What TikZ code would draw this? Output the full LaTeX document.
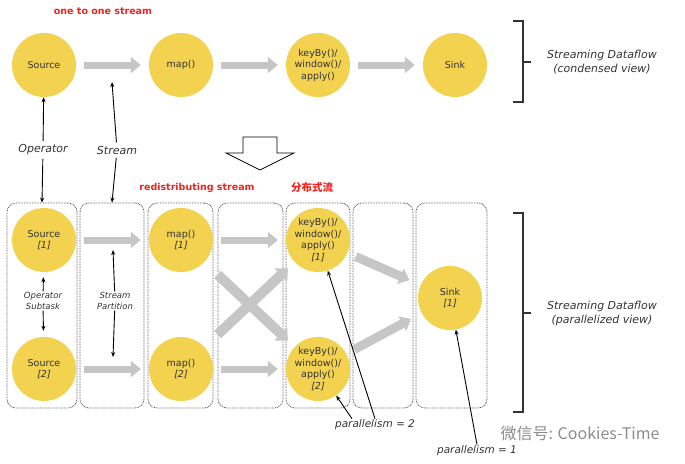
\documentclass[tikz,border=0pt]{standalone}
\usepackage{fontspec}
\setmainfont{DejaVu Sans}
\newfontfamily\cjk{Noto Sans CJK SC}
\usetikzlibrary{arrows.meta,positioning,calc}
\definecolor{opyellow}{HTML}{F2D24E}
\definecolor{flowgray}{HTML}{C6C6C6}
\definecolor{notered}{HTML}{F0231E}
\definecolor{lanegray}{HTML}{5A5A5A}
\definecolor{labeltext}{HTML}{333333}
\definecolor{markgray}{HTML}{8C8C8C}

\tikzset{
  op/.style={circle, fill=opyellow, minimum size=64pt, inner sep=0pt, align=center,
    font=\fontsize{9.5}{11.5}\selectfont, text=labeltext},
  flow/.style={draw=flowgray, line width=7pt, shorten <=8pt, shorten >=8pt,
    -{Triangle[width=16pt,length=10pt]}},
  crossflow/.style={draw=flowgray, line width=10pt, -{Triangle[width=18pt,length=10pt]}},
  lane/.style={draw=lanegray, line width=0.8pt, dash pattern=on 0.8pt off 0.8pt,
    rounded corners=9pt, minimum height=205pt, inner sep=0pt},
  pointer/.style={draw=black, line width=0.9pt, -{Stealth[length=5pt,width=4pt]}},
  bigtag/.style={font=\fontsize{11}{14}\selectfont\itshape, text=labeltext, align=center},
  smalltag/.style={font=\fontsize{8.5}{10.5}\selectfont\itshape, text=labeltext, align=center, inner sep=1pt},
  partag/.style={font=\fontsize{10.5}{12}\selectfont\itshape, text=labeltext, inner sep=1pt},
  redtag/.style={font=\fontsize{9.5}{11}\selectfont\bfseries, text=notered},
  bracket/.style={draw=labeltext, line width=1.2pt}
}

\begin{document}
\begin{tikzpicture}[x=1pt,y=-1pt]
\useasboundingbox (0,0) rectangle (685,463);

% condensed view
\node[op] (src) at (44,65) {Source};
\node[op] (map) at (181,65) {map()};
\node[op] (kb) at (318,65) {keyBy()/\\window()/\\apply()};
\node[op] (snk) at (455,65) {Sink};
\draw[flow] (src) -- (map);
\draw[flow] (map) -- (kb);
\draw[flow] (kb) -- (snk);

\node[redtag] (oto) at (103,11) {one to one stream};

\draw[bracket] (513,21) -- (523,21) -- (523,102) -- (513,102);
\draw[bracket] (523,62) -- (531,62);
\node[bigtag] (condensed) at (602,62) {Streaming Dataflow\\(condensed view)};

% labels between the two views
\node[bigtag] (oplbl) at (43,150) {Operator};
\node[bigtag] (strlbl) at (117,150) {Stream};
\coordinate (streamtip) at (112,82);

% big hollow arrow
\draw[line width=0.8pt, fill=white] (243,137) -- (277,137) -- (277,153) -- (294,153)
  -- (260,170) -- (226,153) -- (243,153) -- cycle;

\node[redtag] (redis) at (197,188) {redistributing stream};
\node[redtag, font=\fontsize{10.5}{12}\selectfont\cjk\bfseries] (fbs) at (312,188) {分布式流};

% parallelized view: lanes
\node[lane, minimum width=70pt] (lane1) at (42,305.5) {};
\node[lane, minimum width=64pt] (lane2) at (112,305.5) {};
\node[lane, minimum width=65pt] (lane3) at (180.5,305.5) {};
\node[lane, minimum width=65pt] (lane4) at (250.5,305.5) {};
\node[lane, minimum width=64pt] (lane5) at (318,305.5) {};
\node[lane, minimum width=60pt] (lane6) at (383,305.5) {};
\node[lane, minimum width=71pt] (lane7) at (451.5,305.5) {};

\draw[pointer] (oplbl) -- (src);
\draw[pointer] (oplbl) -- (lane1.north);
\draw[pointer] (strlbl) -- (streamtip);
\draw[pointer] (strlbl) -- (lane2.north);

% subtasks
\node[op] (src1) at (44,240) {Source\\{\itshape[1]}};
\node[op] (src2) at (44,369) {Source\\{\itshape[2]}};
\node[op] (map1) at (181,240) {map()\\{\itshape[1]}};
\node[op] (map2) at (181,369) {map()\\{\itshape[2]}};
\node[op] (kb1) at (318,240) {keyBy()/\\window()/\\apply()\\{\itshape[1]}};
\node[op] (kb2) at (318,369) {keyBy()/\\window()/\\apply()\\{\itshape[2]}};
\node[op] (snk1) at (450,298) {Sink\\{\itshape[1]}};

\draw[flow] (src1) -- (map1);
\draw[flow] (src2) -- (map2);
\draw[flow] (map1) -- (kb1);
\draw[flow] (map2) -- (kb2);
\draw[crossflow, shorten <=18pt, shorten >=9pt] (map1) -- (kb2);
\draw[crossflow, shorten <=18pt, shorten >=9pt] (map2) -- (kb1);
\draw[flow, line width=9pt, shorten <=9pt, shorten >=12pt] (kb1) -- (snk1);
\draw[flow, line width=9pt, shorten <=9pt, shorten >=12pt] (kb2) -- (snk1);

\node[smalltag] (sublbl) at (43,301) {Operator\\Subtask};
\node[smalltag] (partlbl) at (115,301) {Stream\\Partition};
\coordinate (parttop) at (113,250);
\coordinate (partbot) at (113,357);
\draw[pointer, shorten >=5pt] (sublbl) -- (src1);
\draw[pointer, shorten >=6pt] (sublbl) -- (src2);
\draw[pointer] (partlbl) -- (parttop);
\draw[pointer] (partlbl) -- (partbot);

\draw[bracket] (513,213) -- (523,213) -- (523,412) -- (513,412);
\draw[bracket] (523,313) -- (531,313);
\node[bigtag] (parallel) at (602,313) {Streaming Dataflow\\(parallelized view)};

% parallelism notes
\node[partag] (par2) at (375,425) {parallelism = 2};
\node[partag] (par1) at (477,451) {parallelism = 1};
\draw[pointer] (par2.north) -- (kb1);
\draw[pointer] ($(par2.north)+(-23,0)$) -- (kb2);
\draw[pointer] (par1.north) -- (snk1);

% watermark
\node[text=markgray, font=\fontsize{16}{18}\selectfont\cjk] (mark) at (580,433) {微信号: Cookies-Time};
\end{tikzpicture}
\end{document}
